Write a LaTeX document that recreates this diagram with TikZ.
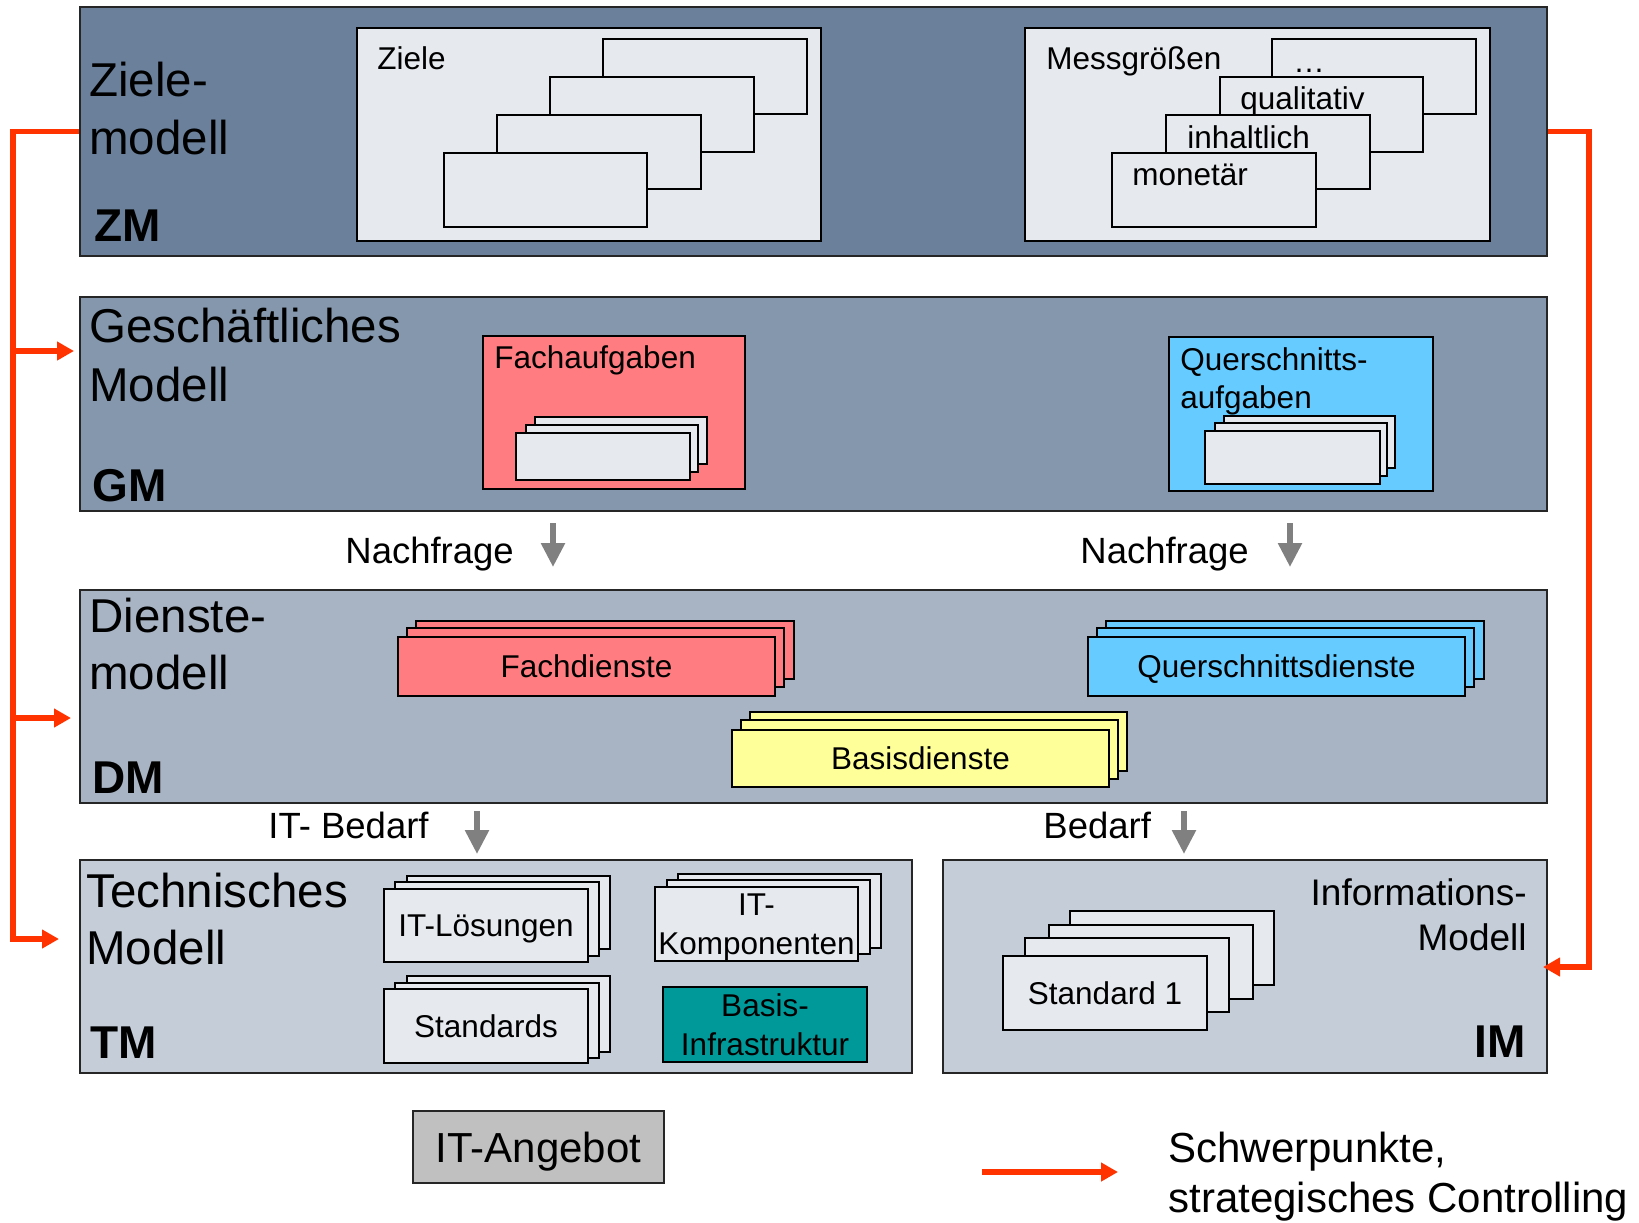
\documentclass[tikz,border=0pt]{standalone}
\usepackage{fontspec}
\setmainfont{Liberation Sans}
\usetikzlibrary{arrows.meta,fit}
\definecolor{zmc}{HTML}{6A809B}
\definecolor{gmc}{HTML}{8497AC}
\definecolor{dmc}{HTML}{A8B4C4}
\definecolor{tmc}{HTML}{C4CDD8}
\definecolor{sheetc}{HTML}{E6E9EE}
\definecolor{fachc}{HTML}{FF7C80}
\definecolor{querc}{HTML}{66CCFF}
\definecolor{basisc}{HTML}{FFFF99}
\definecolor{tealc}{HTML}{009999}
\definecolor{angc}{HTML}{C0C0C0}
\definecolor{redc}{HTML}{FF3300}
\definecolor{grayc}{HTML}{808080}
\newcommand\setfs[2]{\fontsize{#1}{#2}\selectfont}
\tikzset{
  layer/.style={draw=black!85, line width=1pt, inner sep=0pt},
  panel/.style={draw=black, line width=0.8pt, inner sep=0pt, fill=sheetc},
  sheet/.style={draw=black, line width=0.8pt, inner sep=0pt, fill=sheetc},
  cbox/.style={draw=black, line width=0.9pt, inner sep=0pt},
  ctext/.style={inner sep=0pt, anchor=center, text depth=0pt, font=\setfs{15.75}{19.5}, align=center},
  ttl/.style={inner sep=0pt, anchor=base west, font=\setfs{23.75}{28}},
  abbr/.style={inner sep=0pt, anchor=base west, font=\setfs{23}{28}\bfseries},
  small/.style={inner sep=0pt, anchor=base west, font=\setfs{15.75}{19}},
  mid/.style={inner sep=0pt, anchor=base west, font=\setfs{18.25}{22}},
  redline/.style={draw=redc, line width=2.6pt, line join=miter},
  redarrow/.style={redline, -{Triangle[length=8.5pt,width=9pt]}},
  grayarrow/.style={draw=grayc, line width=2.8pt, -{Triangle[length=12pt,width=11.5pt]}},
}
\begin{document}
\begin{tikzpicture}[x=0.5pt,y=-0.5pt]
\useasboundingbox (0,0) rectangle (1639,1222);

% ---------- layers ----------
\node[layer, fill=zmc, fit={(80,7) (1547,256)}] (zm) {};
\node[layer, fill=gmc, fit={(80,297) (1547,511)}] (gm) {};
\node[layer, fill=dmc, fit={(80,590) (1547,803)}] (dm) {};
\node[layer, fill=tmc, fit={(80,860) (912,1073)}] (tm) {};
\node[layer, fill=tmc, fit={(943,860) (1547,1073)}] (im) {};

% ---------- ZM ----------
\node[ttl] (zmt1) at (89,96) {Ziele-};
\node[ttl] (zmt2) at (89,154) {modell};
\node[abbr] (zml) at (94,241) {ZM};

\node[panel, fit={(357,28) (821,241)}] (zp) {};
\node[small] (zpt) at (377,69) {Ziele};
\node[sheet, fit={(603,39) (807,114)}] (z1) {};
\node[sheet, fit={(550,77) (754,152)}] (z2) {};
\node[sheet, fit={(497,115) (701,189)}] (z3) {};
\node[sheet, fit={(444,153) (647,227)}] (z4) {};

\node[panel, fit={(1025,28) (1490,241)}] (mp) {};
\node[small] (mpt) at (1046,69) {Messgrößen};
\node[sheet, fit={(1272,39) (1476,114)}] (m1) {};
\node[small] (m1t) at (1293,72) {…};
\node[sheet, fit={(1220,77) (1423,152)}] (m2) {};
\node[small] (m2t) at (1240,109) {qualitativ};
\node[sheet, fit={(1166,115) (1370,189)}] (m3) {};
\node[small] (m3t) at (1187,148) {inhaltlich};
\node[sheet, fit={(1112,153) (1316,227)}] (m4) {};
\node[small] (m4t) at (1132,185) {monetär};

% ---------- GM ----------
\node[ttl] (gmt1) at (89,342) {Geschäftliches};
\node[ttl] (gmt2) at (89,401) {Modell};
\node[abbr] (gml) at (92,501) {GM};

\node[cbox, fill=fachc, fit={(483,336) (745,489)}] (fa) {};
\node[sheet, fit={(535,417) (707,464)}] (fa1) {};
\node[sheet, fit={(526,425) (698,472)}] (fa2) {};
\node[sheet, fit={(516,433) (690,480)}] (fa3) {};
\node[small] (fat) at (494,368) {Fachaufgaben};

\node[cbox, fill=querc, fit={(1169,337) (1433,491)}] (qa) {};
\node[sheet, fit={(1224,416) (1395,468)}] (qa1) {};
\node[sheet, fit={(1215,423) (1387,476)}] (qa2) {};
\node[sheet, fit={(1205,431) (1380,484)}] (qa3) {};
\node[small] (qat1) at (1180,370) {Querschnitts-};
\node[small] (qat2) at (1180,408) {aufgaben};

% Nachfrage
\node[mid] (nf1) at (345,563) {Nachfrage};
\coordinate (nf1a) at (553,523);
\coordinate (nf1b) at (553,567);
\draw[grayarrow] (nf1a) -- (nf1b);
\node[mid] (nf2) at (1080,563) {Nachfrage};
\coordinate (nf2a) at (1290,523);
\coordinate (nf2b) at (1290,567);
\draw[grayarrow] (nf2a) -- (nf2b);

% ---------- DM ----------
\node[ttl] (dmt1) at (89,632) {Dienste-};
\node[ttl] (dmt2) at (89,689) {modell};
\node[abbr] (dml) at (92,793) {DM};

\node[cbox, fill=fachc, fit={(416,621) (794,679)}] (fd1) {};
\node[cbox, fill=fachc, fit={(407,628) (784,687)}] (fd2) {};
\node[cbox, fill=fachc, fit={(398,637) (775,696)}] (fd3) {};
\node[ctext] (fdt) at (fd3.center) {Fachdienste};

\node[cbox, fill=querc, fit={(1106,621) (1484,679)}] (qd1) {};
\node[cbox, fill=querc, fit={(1097,628) (1474,687)}] (qd2) {};
\node[cbox, fill=querc, fit={(1088,637) (1465,696)}] (qd3) {};
\node[ctext] (qdt) at (qd3.center) {Querschnittsdienste};

\node[cbox, fill=basisc, fit={(750,712) (1127,771)}] (bd1) {};
\node[cbox, fill=basisc, fit={(741,720) (1118,779)}] (bd2) {};
\node[cbox, fill=basisc, fit={(732,730) (1109,787)}] (bd3) {};
\node[ctext] (bdt) at (bd3.center) {Basisdienste};

% Bedarf
\node[mid] (itb) at (268,838) {IT- Bedarf};
\coordinate (itba) at (477,811);
\coordinate (itbb) at (477,854);
\draw[grayarrow] (itba) -- (itbb);
\node[mid] (bed) at (1043,838) {Bedarf};
\coordinate (beda) at (1184,811);
\coordinate (bedb) at (1184,854);
\draw[grayarrow] (beda) -- (bedb);

% ---------- TM ----------
\node[ttl] (tmt1) at (86,907) {Technisches};
\node[ttl] (tmt2) at (86,964) {Modell};
\node[abbr] (tml) at (90,1058) {TM};

\node[sheet, fit={(407,876) (610,949)}] (il1) {};
\node[sheet, fit={(395,882) (599,956)}] (il2) {};
\node[sheet, fit={(384,889) (588,962)}] (il3) {};
\node[ctext] (ilt) at (il3.center) {IT-Lösungen};

\node[sheet, fit={(678,874) (881,948)}] (ik1) {};
\node[sheet, fit={(667,880) (870,954)}] (ik2) {};
\node[sheet, fit={(655,887) (858,961)}] (ik3) {};
\node[ctext] (ikt) at (ik3.center) {IT-\\Komponenten};

\node[sheet, fit={(407,976) (610,1052)}] (st1) {};
\node[sheet, fit={(395,983) (599,1058)}] (st2) {};
\node[sheet, fit={(384,989) (588,1063)}] (st3) {};
\node[ctext] (stt) at (st3.center) {Standards};

\node[cbox, fill=tealc, fit={(663,987) (867,1062)}] (bi) {};
\node[ctext] (bit) at (bi.center) {Basis-\\Infrastruktur};

% ---------- IM ----------
\node[inner sep=0pt, anchor=base east, font=\setfs{18.5}{22}] (imt1) at (1527,905) {Informations-};
\node[inner sep=0pt, anchor=base east, font=\setfs{18.5}{22}] (imt2) at (1527,950) {Modell};
\node[inner sep=0pt, anchor=base east, font=\setfs{23}{28}\bfseries] (iml) at (1526,1057) {IM};

\node[sheet, fit={(1070,911) (1274,985)}] (sa1) {};
\node[sheet, fit={(1049,925) (1253,999)}] (sa2) {};
\node[sheet, fit={(1025,938) (1229,1012)}] (sa3) {};
\node[sheet, fit={(1003,956) (1207,1030)}] (sa4) {};
\node[ctext] (sat) at (sa4.center) {Standard 1};

% ---------- IT-Angebot ----------
\node[draw=black!85, line width=1pt, inner sep=0pt, fill=angc, fit={(413,1111) (664,1183)}] (ita) {};
\node[inner sep=0pt, anchor=center, text depth=0pt, font=\setfs{21}{25}] (itat) at (ita.center) {IT-Angebot};

% ---------- red controlling lines ----------
\coordinate (lbTop) at (13,131.5);
\coordinate (lbBot) at (13,939);
\coordinate (tmIn) at (59,939);
\coordinate (gmIn) at (74,351);
\coordinate (dmIn) at (71,718);
\draw[redarrow] (zm.west) -- (lbTop) -- (lbBot) -- (tmIn);
\draw[redarrow] (lbTop |- gmIn) -- (gmIn);
\draw[redarrow] (lbTop |- dmIn) -- (dmIn);

\coordinate (rbTop) at (1589,131.5);
\coordinate (rbBot) at (1589,967);
\coordinate (imIn) at (1543,967);
\draw[redarrow] (zm.east) -- (rbTop) -- (rbBot) -- (imIn);

% ---------- legend ----------
\coordinate (lga) at (982,1172);
\coordinate (lgb) at (1118,1172);
\draw[redarrow, line width=3pt] (lga) -- (lgb);
\node[inner sep=0pt, anchor=base west, font=\setfs{21}{25}] (lgt1) at (1168,1162) {Schwerpunkte,};
\node[inner sep=0pt, anchor=base west, font=\setfs{21}{25}] (lgt2) at (1168,1212) {strategisches Controlling};
\end{tikzpicture}
\end{document}
